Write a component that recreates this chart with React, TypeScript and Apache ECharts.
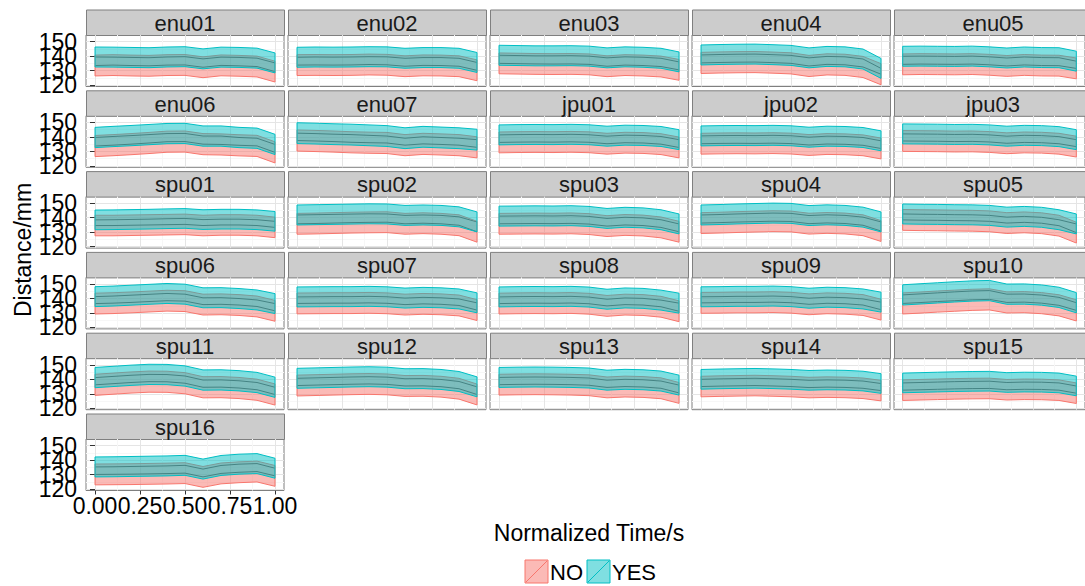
import React, { useEffect, useRef } from "react";
import * as echarts from "echarts";

const PANEL_NAMES = [
  "enu01", "enu02", "enu03", "enu04", "enu05",
  "enu06", "enu07", "jpu01", "jpu02", "jpu03",
  "spu01", "spu02", "spu03", "spu04", "spu05",
  "spu06", "spu07", "spu08", "spu09", "spu10",
  "spu11", "spu12", "spu13", "spu14", "spu15",
  "spu16",
];

const TIMES = [0, 0.1, 0.2, 0.3, 0.4, 0.5, 0.6, 0.7, 0.8, 0.9, 1.0];

// mean distance (mm) for group NO, one row per panel
const NO_MEAN: number[][] = [
  [133.5, 133.8, 133.5, 133.3, 133.8, 133.9, 132.3, 133.6, 133.3, 132.8, 129.3],
  [133.8, 133.9, 133.8, 133.9, 134.2, 134.0, 133.0, 133.6, 133.5, 133.0, 130.2],
  [135.0, 134.8, 134.6, 134.5, 134.6, 134.3, 133.0, 133.8, 133.5, 132.8, 130.5],
  [135.3, 135.6, 135.8, 135.9, 135.5, 135.0, 133.2, 134.3, 134.0, 132.5, 127.5],
  [134.3, 134.5, 134.4, 134.3, 134.5, 134.0, 133.2, 133.9, 133.5, 133.4, 131.5],
  [133.7, 134.3, 135.0, 135.8, 136.7, 136.8, 135.0, 134.8, 134.2, 133.8, 129.3],
  [137.5, 137.2, 136.8, 136.3, 136.0, 135.8, 134.3, 135.2, 134.8, 134.3, 132.8],
  [136.2, 136.4, 136.5, 136.4, 136.6, 136.3, 135.3, 136.0, 135.8, 135.0, 132.7],
  [135.3, 135.5, 135.6, 135.5, 135.7, 135.4, 134.4, 135.1, 134.9, 134.2, 132.0],
  [137.2, 137.1, 137.0, 136.8, 136.9, 136.5, 135.6, 136.2, 136.0, 135.3, 133.3],
  [134.6, 134.6, 134.8, 135.0, 135.2, 135.4, 134.6, 135.0, 135.0, 134.6, 133.3],
  [135.8, 136.0, 136.3, 136.6, 136.8, 136.9, 135.8, 136.2, 135.8, 134.8, 130.3],
  [135.8, 135.9, 136.0, 135.9, 136.1, 135.6, 134.2, 135.0, 134.6, 133.3, 130.3],
  [136.3, 136.6, 137.0, 137.3, 137.6, 137.4, 135.9, 136.4, 136.0, 134.8, 130.8],
  [138.5, 138.3, 138.2, 138.0, 137.9, 137.5, 136.3, 136.8, 136.2, 134.5, 129.7],
  [136.5, 136.8, 137.3, 137.9, 138.5, 138.2, 135.8, 136.0, 135.5, 134.5, 131.5],
  [136.6, 136.7, 136.8, 136.8, 137.0, 136.7, 135.8, 136.3, 136.0, 135.2, 132.0],
  [136.5, 136.7, 136.8, 136.7, 136.9, 136.4, 134.9, 135.8, 135.5, 134.3, 131.2],
  [137.0, 137.1, 137.3, 137.3, 137.5, 137.1, 136.0, 136.7, 136.4, 135.5, 132.3],
  [136.6, 137.2, 137.9, 138.5, 139.1, 139.4, 137.3, 137.5, 136.8, 135.3, 131.8],
  [136.2, 137.0, 137.8, 138.4, 138.3, 137.3, 134.5, 134.6, 134.0, 132.8, 129.5],
  [135.7, 136.0, 136.3, 136.6, 136.8, 136.5, 135.4, 135.5, 134.9, 133.5, 129.5],
  [136.3, 136.5, 136.6, 136.5, 136.3, 135.9, 134.4, 135.0, 134.7, 133.8, 130.6],
  [135.0, 135.3, 135.5, 135.7, 135.4, 135.0, 134.3, 134.6, 134.4, 133.8, 132.2],
  [132.5, 132.8, 133.1, 133.4, 133.6, 133.7, 132.8, 133.1, 133.0, 132.5, 130.4],
  [130.1, 130.2, 130.3, 130.5, 130.7, 131.0, 128.4, 130.8, 131.6, 132.1, 129.1],
];

// mean distance (mm) for group YES, one row per panel
const YES_MEAN: number[][] = [
  [139.4, 139.3, 139.1, 138.9, 139.4, 139.6, 138.1, 139.3, 139.1, 138.6, 135.3],
  [139.2, 139.4, 139.3, 139.4, 139.6, 139.5, 138.5, 139.0, 139.0, 138.5, 135.6],
  [140.6, 140.4, 140.2, 140.2, 140.3, 140.0, 138.8, 139.5, 139.2, 138.5, 136.0],
  [140.8, 141.1, 141.3, 141.4, 141.0, 140.5, 138.8, 139.8, 139.5, 138.0, 131.5],
  [139.9, 140.0, 139.9, 139.8, 140.0, 139.5, 138.7, 139.4, 139.0, 138.9, 136.5],
  [139.6, 140.3, 140.9, 141.6, 142.3, 142.4, 140.6, 140.6, 139.6, 139.1, 134.8],
  [142.6, 142.3, 141.9, 141.6, 141.1, 140.6, 139.1, 140.1, 139.6, 139.1, 138.1],
  [141.4, 141.6, 141.7, 141.6, 141.8, 141.5, 140.5, 141.2, 141.0, 140.3, 138.1],
  [140.7, 140.9, 141.0, 140.9, 141.1, 140.8, 139.8, 140.5, 140.3, 139.6, 137.3],
  [142.1, 142.0, 141.9, 141.7, 141.8, 141.4, 140.5, 141.1, 140.9, 140.2, 138.1],
  [138.5, 138.6, 138.8, 139.0, 139.3, 139.5, 138.7, 139.0, 139.0, 138.6, 137.5],
  [141.9, 142.1, 142.3, 142.5, 142.7, 142.6, 141.6, 141.9, 141.6, 140.6, 137.1],
  [141.1, 141.2, 141.3, 141.2, 141.4, 140.9, 139.5, 140.3, 139.9, 138.6, 135.7],
  [141.9, 142.2, 142.6, 142.9, 143.2, 143.0, 141.5, 142.0, 141.6, 140.4, 137.1],
  [142.6, 142.4, 142.3, 142.1, 142.0, 141.6, 140.4, 140.9, 140.3, 138.6, 135.7],
  [141.3, 141.7, 142.3, 142.9, 143.5, 143.0, 140.5, 140.6, 140.0, 139.0, 136.5],
  [141.1, 141.2, 141.3, 141.3, 141.5, 141.2, 140.3, 140.8, 140.5, 139.7, 137.0],
  [141.1, 141.3, 141.4, 141.3, 141.5, 141.0, 139.5, 140.4, 140.1, 138.9, 136.8],
  [141.2, 141.3, 141.5, 141.5, 141.7, 141.3, 140.2, 140.9, 140.6, 139.7, 137.5],
  [142.5, 143.2, 143.9, 144.6, 145.2, 145.5, 143.0, 143.1, 142.4, 140.8, 137.1],
  [141.2, 142.0, 142.8, 143.4, 143.3, 142.3, 139.5, 139.6, 139.0, 137.8, 134.5],
  [140.7, 141.0, 141.3, 141.6, 141.8, 141.5, 140.4, 140.5, 139.9, 138.5, 134.8],
  [141.3, 141.5, 141.6, 141.5, 141.3, 140.9, 139.4, 140.0, 139.7, 138.8, 136.0],
  [140.0, 140.3, 140.5, 140.7, 140.4, 140.0, 139.3, 139.6, 139.4, 138.8, 137.1],
  [137.5, 137.8, 138.1, 138.4, 138.6, 138.7, 137.8, 138.1, 138.0, 137.5, 135.4],
  [135.3, 135.4, 135.6, 135.8, 136.0, 136.4, 133.8, 136.3, 137.2, 137.6, 134.4],
];

// standard deviation (ribbon half width) per panel
const NO_SD = [7.2, 7.2, 7.2, 7.3, 7.2, 7.3, 7.3, 7.2, 7.2, 7.2, 7.1, 7.2, 7.2, 7.2, 7.2, 7.2, 7.2, 7.2, 7.2, 7.3, 7.3, 7.2, 7.2, 7.1, 7.1, 7.2];
const YES_SD = [6.9, 6.9, 6.9, 6.9, 6.9, 7.0, 7.2, 6.9, 6.9, 6.9, 6.8, 6.9, 6.9, 6.9, 6.9, 6.9, 6.9, 6.9, 6.9, 7.0, 7.0, 6.9, 6.9, 6.8, 6.8, 6.9];

const Y_TICKS = [120, 130, 140, 150];
const Y_MINOR = [125, 135, 145];
const X_TICKS = [0, 0.25, 0.5, 0.75, 1];
const X_MINOR = [0.125, 0.375, 0.625, 0.875];
const LEGEND_NAMES = ["NO", "YES"];
const COLORS = ["#F8766D", "#00BFC4"];
const FILLS = ["rgba(248,118,109,0.5)", "rgba(0,191,196,0.5)"];

const FONT = "'Liberation Sans', Arial, Helvetica, sans-serif";
const N_COLS = 5;
const LEFT0 = 86;
const COL_PITCH = 202;
const PANEL_W = 198;
const TOP0 = 9.5;
const ROW_PITCH = 80.8;
const STRIP_H = 25.5;
const PLOT_H = 51.5;
const Y_MIN = 119;
const Y_MAX = 154.6;

function buildOption() {
  const grids: any[] = [];
  const xAxes: any[] = [];
  const yAxes: any[] = [];
  const series: any[] = [];
  const graphics: any[] = [];
  const lastIdx = PANEL_NAMES.length - 1;

  PANEL_NAMES.forEach((name, i) => {
    const r = Math.floor(i / N_COLS);
    const c = i % N_COLS;
    const left = LEFT0 + c * COL_PITCH;
    const stripTop = TOP0 + r * ROW_PITCH;
    const top = stripTop + STRIP_H;
    grids.push({
      left, top, width: PANEL_W, height: PLOT_H,
      show: true, backgroundColor: "#FFFFFF", borderColor: "#7F7F7F", borderWidth: 1,
      containLabel: false,
    });
    const showX = i === lastIdx;
    const showY = c === 0;
    const xIdx = xAxes.length;
    xAxes.push({
      type: "value", gridIndex: i, min: -0.05, max: 1.05,
      axisLine: { show: false },
      axisTick: { show: showX, customValues: X_TICKS, length: 4, lineStyle: { color: "#333333", width: 1 } },
      axisLabel: {
        show: showX, customValues: X_TICKS, margin: 4, fontSize: 23, color: "#000000", fontFamily: FONT,
        showMinLabel: true, showMaxLabel: true, hideOverlap: false,
        formatter: (v: number) => v.toFixed(2),
      },
      splitLine: { show: true, lineStyle: { color: "#E5E5E5", width: 1 } },
    });
    xAxes.push({
      type: "value", gridIndex: i, min: -0.05, max: 1.05, position: "top",
      axisLine: { show: false },
      axisTick: { show: false, customValues: X_MINOR },
      axisLabel: { show: false, customValues: X_MINOR },
      splitLine: { show: true, lineStyle: { color: "#F7F7F7", width: 1 } },
    });
    const yIdx = yAxes.length;
    yAxes.push({
      type: "value", gridIndex: i, min: Y_MIN, max: Y_MAX,
      axisLine: { show: false },
      axisTick: { show: showY, customValues: Y_TICKS, length: 5, lineStyle: { color: "#333333", width: 1 } },
      axisLabel: { show: false, customValues: Y_TICKS },
      splitLine: { show: true, lineStyle: { color: "#E5E5E5", width: 1 } },
    });
    yAxes.push({
      type: "value", gridIndex: i, min: Y_MIN, max: Y_MAX, position: "right",
      axisLine: { show: false },
      axisTick: { show: false, customValues: Y_MINOR },
      axisLabel: { show: false, customValues: Y_MINOR },
      splitLine: { show: true, lineStyle: { color: "#F7F7F7", width: 1 } },
    });
    if (showY) {
      // one label-only axis per tick value so that the overlapping labels all stay visible
      Y_TICKS.forEach((v) => {
        yAxes.push({
          type: "value", gridIndex: i, min: Y_MIN, max: Y_MAX, position: "left", offset: 0,
          axisLine: { show: false },
          axisTick: { show: false, customValues: [v] },
          splitLine: { show: false },
          axisLabel: {
            show: true, customValues: [v], margin: 9, fontSize: 23, color: "#000000", fontFamily: FONT,
            showMinLabel: true, showMaxLabel: true, hideOverlap: false,
          },
        });
      });
    }

    const noM = NO_MEAN[i];
    const yesM = YES_MEAN[i];
    const noS = NO_SD[i];
    const yesS = YES_SD[i];
    series.push({
      type: "custom",
      xAxisIndex: xIdx,
      yAxisIndex: yIdx,
      silent: true,
      clip: false,
      data: TIMES.map((t, k) => [t, noM[k], yesM[k]]),
      encode: { x: 0, y: [1, 2] },
      renderItem: (params: any, api: any) => {
        if (params.dataIndex !== 0) return null;
        const line = (m: number[], s: number) => TIMES.map((t, k) => api.coord([t, m[k] + s]));
        const poly = (m: number[], s: number) => [...line(m, s), ...line(m, -s).reverse()];
        return {
          type: "group",
          children: [
            { type: "polyline", shape: { points: line(noM, 0) }, style: { stroke: "#000000", lineWidth: 0.9, fill: "none" } },
            { type: "polyline", shape: { points: line(yesM, 0) }, style: { stroke: "#000000", lineWidth: 0.9, fill: "none" } },
            { type: "polygon", shape: { points: poly(noM, noS) }, style: { fill: FILLS[0], stroke: COLORS[0], lineWidth: 1 } },
            { type: "polygon", shape: { points: poly(yesM, yesS) }, style: { fill: FILLS[1], stroke: COLORS[1], lineWidth: 1 } },
          ],
        };
      },
    });

    graphics.push({
      type: "rect", left: left, top: stripTop, silent: true,
      shape: { width: PANEL_W, height: STRIP_H },
      style: { fill: "#CCCCCC", stroke: "#7F7F7F", lineWidth: 1 },
    });
    graphics.push({
      type: "text", x: left + PANEL_W / 2, y: stripTop + STRIP_H / 2 + 1, silent: true,
      style: { text: name, fill: "#1A1A1A", font: `22px ${FONT}`, textAlign: "center", textVerticalAlign: "middle" },
    });
  });

  graphics.push({
    type: "text", x: 23, y: 250, rotation: Math.PI / 2, silent: true,
    style: { text: "Distance/mm", fill: "#000000", font: `23px ${FONT}`, textAlign: "center", textVerticalAlign: "middle" },
  });
  graphics.push({
    type: "text", x: 589, y: 533, silent: true,
    style: { text: "Normalized Time/s", fill: "#000000", font: `23px ${FONT}`, textAlign: "center", textVerticalAlign: "middle" },
  });

  const keyX = [525, 587];
  LEGEND_NAMES.forEach((nm, k) => {
    const x = keyX[k];
    const y = 560;
    graphics.push({
      type: "rect", x, y, silent: true,
      shape: { width: 23, height: 23 },
      style: { fill: FILLS[k], stroke: COLORS[k], lineWidth: 1 },
    });
    graphics.push({
      type: "line", silent: true,
      shape: { x1: x + 1, y1: y + 22, x2: x + 22, y2: y + 1 },
      style: { stroke: COLORS[k], lineWidth: 1 },
    });
    graphics.push({
      type: "text", x: x + 25, y: y + 12, silent: true,
      style: { text: nm, fill: "#000000", font: `22px ${FONT}`, textAlign: "left", textVerticalAlign: "middle" },
    });
  });

  return {
    animation: false,
    backgroundColor: "#FFFFFF",
    grid: grids,
    xAxis: xAxes,
    yAxis: yAxes,
    series,
    graphic: { elements: graphics },
  };
}

export default function App() {
  const ref = useRef<HTMLDivElement>(null);
  useEffect(() => {
    if (!ref.current) return;
    const chart = echarts.init(ref.current, undefined, { renderer: "svg" });
    chart.setOption(buildOption() as any);
    return () => chart.dispose();
  }, []);
  return (
    <div
      ref={ref}
      style={{ position: "absolute", left: 0, top: 0, width: 1085, height: 586, background: "#fff" }}
    />
  );
}
